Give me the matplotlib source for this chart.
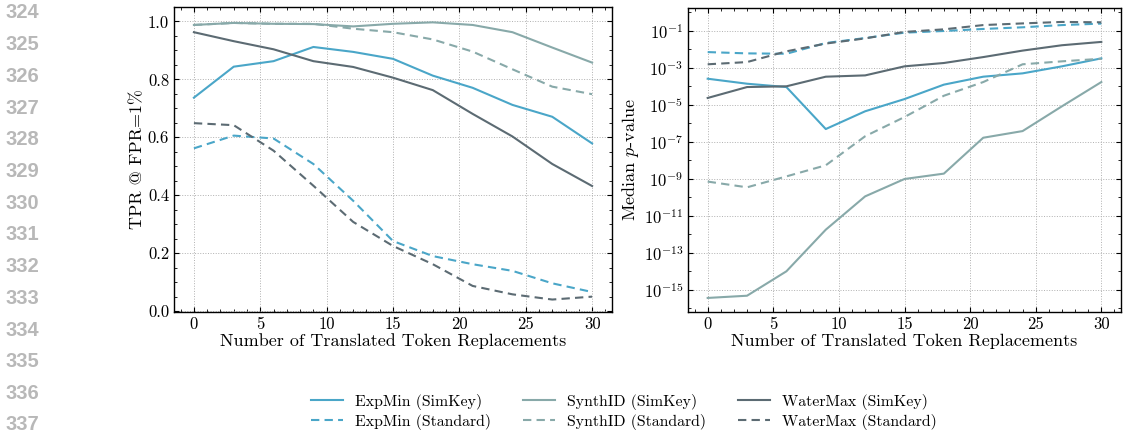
import matplotlib
matplotlib.use("Agg")
import matplotlib.pyplot as plt
import numpy as np

plt.rcParams['font.family'] = 'serif'
plt.rcParams['font.serif'] = ['cmr10']
plt.rcParams['mathtext.fontset'] = 'cm'
plt.rcParams['axes.formatter.use_mathtext'] = True
plt.rcParams['axes.unicode_minus'] = False

x = [0, 3, 6, 9, 12, 15, 18, 21, 24, 27, 30]

# TPR @ FPR=1%
tpr_expmin_simkey = [0.737, 0.844, 0.863, 0.912, 0.895, 0.871, 0.813, 0.771, 0.712, 0.671, 0.579]
tpr_synthid_simkey = [0.988, 0.995, 0.992, 0.991, 0.983, 0.992, 0.997, 0.988, 0.963, 0.910, 0.858]
tpr_watermax_simkey = [0.963, 0.932, 0.904, 0.863, 0.843, 0.806, 0.763, 0.681, 0.603, 0.508, 0.432]
tpr_expmin_standard = [0.562, 0.606, 0.596, 0.508, 0.381, 0.242, 0.190, 0.162, 0.139, 0.096, 0.066]
tpr_synthid_standard = [0.988, 0.995, 0.992, 0.992, 0.975, 0.963, 0.938, 0.896, 0.835, 0.775, 0.749]
tpr_watermax_standard = [0.649, 0.642, 0.554, 0.433, 0.308, 0.225, 0.162, 0.087, 0.058, 0.040, 0.050]

# log10 of median p-value
logp_expmin_simkey = [-3.58, -3.85, -4.03, -6.30, -5.34, -4.68, -3.90, -3.47, -3.29, -2.91, -2.48]
logp_synthid_simkey = [-15.43, -15.31, -13.99, -11.74, -9.94, -9.00, -8.71, -6.77, -6.41, -5.07, -3.76]
logp_watermax_simkey = [-4.62, -4.03, -3.99, -3.47, -3.40, -2.91, -2.73, -2.41, -2.06, -1.77, -1.59]
logp_expmin_standard = [-2.14, -2.21, -2.23, -1.65, -1.38, -1.09, -1.00, -0.89, -0.80, -0.68, -0.60]
logp_synthid_standard = [-9.14, -9.45, -8.86, -8.26, -6.69, -5.65, -4.50, -3.76, -2.80, -2.64, -2.50]
logp_watermax_standard = [-2.80, -2.68, -2.10, -1.68, -1.40, -1.05, -0.91, -0.68, -0.59, -0.51, -0.53]

labels = ["ExpMin (SimKey)", "ExpMin (Standard)",
          "SynthID (SimKey)", "SynthID (Standard)",
          "WaterMax (SimKey)", "WaterMax (Standard)"]
line_numbers = list(range(324, 338))

c_exp = '#4aa6c8'
c_syn = '#88a9a9'
c_wm = '#5c6b73'

fig = plt.figure(figsize=(11.27, 4.33), dpi=100)
W, H = 1127, 433
ax1 = fig.add_axes([174 / W, 1 - 312 / H, (612 - 174) / W, (312 - 7) / H])
ax2 = fig.add_axes([688 / W, 1 - 312 / H, (1121 - 688) / W, (312 - 8) / H])

lw = 1.5
series_tpr = [(tpr_expmin_simkey, c_exp, '-'), (tpr_expmin_standard, c_exp, '--'),
              (tpr_synthid_simkey, c_syn, '-'), (tpr_synthid_standard, c_syn, '--'),
              (tpr_watermax_simkey, c_wm, '-'), (tpr_watermax_standard, c_wm, '--')]
series_p = [(logp_expmin_simkey, c_exp, '-'), (logp_expmin_standard, c_exp, '--'),
            (logp_synthid_simkey, c_syn, '-'), (logp_synthid_standard, c_syn, '--'),
            (logp_watermax_simkey, c_wm, '-'), (logp_watermax_standard, c_wm, '--')]

handles = []
for (y, c, ls), lab in zip(series_tpr, labels):
    kw = dict(dashes=(4, 2.5)) if ls == '--' else {}
    h, = ax1.plot(x, y, color=c, ls=ls, lw=lw, label=lab, **kw)
    handles.append(h)
for (y, c, ls), lab in zip(series_p, labels):
    kw = dict(dashes=(4, 2.5)) if ls == '--' else {}
    ax2.plot(x, 10.0 ** np.array(y), color=c, ls=ls, lw=lw, **kw)

ax2.set_yscale('log')
ax1.set_xlim(-1.5, 31.5)
ax2.set_xlim(-1.5, 31.5)
ax1.set_ylim(-0.003, 1.05)
ax2.set_ylim(10 ** -16.19, 10 ** 0.243)
ax1.set_yticks([0.0, 0.2, 0.4, 0.6, 0.8, 1.0])
ax1.set_yticklabels(['0.0', '0.2', '0.4', '0.6', '0.8', '1.0'])
exps = [-15, -13, -11, -9, -7, -5, -3, -1]
ax2.set_yticks([10.0 ** e for e in exps])
ax2.set_yticklabels([r'$10^{%d}$' % e for e in exps])
for ax in (ax1, ax2):
    ax.set_xticks([0, 5, 10, 15, 20, 25, 30])
    ax.set_xticklabels(['0', '5', '10', '15', '20', '25', '30'])
    ax.minorticks_on()
    ax.tick_params(which='both', direction='in', top=True, right=True, labelsize=12)
    ax.tick_params(which='major', length=3.5, width=0.8)
    ax.tick_params(which='minor', length=2, width=0.6)
    ax.grid(True, which='major', ls=':', color='#b0b0b0', lw=0.7)
    ax.set_xlabel('Number of Translated Token Replacements', fontsize=13, labelpad=1)
    for s in ax.spines.values():
        s.set_linewidth(1.0)
ax2.yaxis.set_minor_locator(matplotlib.ticker.LogLocator(base=10, subs='all', numticks=40))
ax2.yaxis.set_minor_formatter(matplotlib.ticker.NullFormatter())
ax1.set_ylabel('TPR @ FPR=1%', fontsize=13, labelpad=2)
ax2.set_ylabel('Median $p$-value', fontsize=13, labelpad=2)

fig.legend(handles=handles, loc='center', bbox_to_anchor=(624 / W, 1 - 412 / H), ncol=3,
           frameon=False, fontsize=11.4, columnspacing=2.0, handlelength=2.0,
           handletextpad=0.8, labelspacing=0.25)

for i, n in enumerate(line_numbers):
    yy = 13 + i * 31.7
    fig.text(6 / W, 1 - min(yy, 424) / H, str(n), fontsize=14.5, color='#b8b8b8',
             family='Liberation Sans', weight='bold', va='center', ha='left')

fig.savefig('out.png', dpi=100)
